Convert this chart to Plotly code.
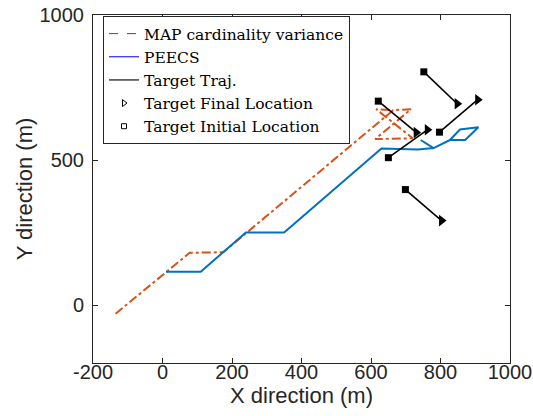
import plotly.graph_objects as go

# ---- data ----
map_x = [-135, 78, 175, 664, 715, 612, 720, 615, 664]
map_y = [-30, 180, 182, 672, 675, 572, 575, 675, 672]

peecs_x = [10, 110, 240, 350, 630, 735, 780, 743, 780, 827, 871, 909, 856, 827]
peecs_y = [115, 115, 250, 250, 540, 536, 541, 569, 541, 569, 569, 613, 605, 569]

target_start_x = [752, 621, 650, 797, 699]
target_start_y = [804, 703, 508, 596, 398]
target_end_x = [848, 730, 762, 907, 803]
target_end_y = [694, 595, 604, 708, 291]

x_ticks = [-200, 0, 200, 400, 600, 800, 1000]
x_tick_text = ["-200", "0", "200", "400", "600", "800", "1000"]
y_ticks = [0, 500, 1000]
y_tick_text = ["0", "500", "1000"]

ORANGE = "#D95319"
BLUE = "#0072BD"

fig = go.Figure()

# target trajectories (straight segments start -> end)
tx, ty = [], []
for x0, y0, x1, y1 in zip(target_start_x, target_start_y, target_end_x, target_end_y):
    tx += [x0, x1, None]
    ty += [y0, y1, None]

fig.add_trace(go.Scatter(x=map_x, y=map_y, mode="lines", showlegend=False,
                         line=dict(color=ORANGE, width=2, dash="dashdot")))
fig.add_trace(go.Scatter(x=peecs_x, y=peecs_y, mode="lines", showlegend=False,
                         line=dict(color=BLUE, width=2)))
fig.add_trace(go.Scatter(x=tx, y=ty, mode="lines", showlegend=False,
                         line=dict(color="black", width=1.6)))
fig.add_trace(go.Scatter(x=target_end_x, y=target_end_y, mode="markers", showlegend=False,
                         marker=dict(symbol="triangle-right", size=10, color="black")))
fig.add_trace(go.Scatter(x=target_start_x, y=target_start_y, mode="markers", showlegend=False,
                         marker=dict(symbol="square", size=7, color="black")))

# legend entries (styled like the reference legend)
fig.add_trace(go.Scatter(x=[None], y=[None], mode="lines", name="MAP cardinality variance",
                         line=dict(color="#FF0000", width=1, dash="dash")))
fig.add_trace(go.Scatter(x=[None], y=[None], mode="lines", name="PEECS",
                         line=dict(color="#0000FF", width=1)))
fig.add_trace(go.Scatter(x=[None], y=[None], mode="lines", name="Target Traj.",
                         line=dict(color="#404040", width=1.5)))
fig.add_trace(go.Scatter(x=[None], y=[None], mode="markers", name="Target Final Location",
                         marker=dict(symbol="triangle-right-open", size=6, color="black",
                                     line=dict(width=1))))
fig.add_trace(go.Scatter(x=[None], y=[None], mode="markers", name="Target Initial Location",
                         marker=dict(symbol="square-open", size=5, color="black",
                                     line=dict(width=1))))

axis_common = dict(
    showgrid=False, zeroline=False, showline=True, linecolor="#262626", linewidth=1,
    mirror="allticks", ticks="inside", ticklen=5, tickcolor="#262626", automargin=False,
    tickfont=dict(family="Liberation Sans", size=20, color="#262626"),
)

fig.update_xaxes(range=[-200, 1000], tickvals=x_ticks, ticktext=x_tick_text,
                 ticklabelstandoff=-9,
                 title=dict(text="X direction (m)", standoff=0,
                            font=dict(family="Liberation Sans", size=22, color="#262626")),
                 **axis_common)
fig.update_yaxes(range=[-200, 1000], tickvals=y_ticks, ticktext=y_tick_text,
                 ticklabelstandoff=4,
                 title=dict(text="Y direction (m)", standoff=0,
                            font=dict(family="Liberation Sans", size=22, color="#262626")),
                 **axis_common)

fig.update_layout(
    width=533, height=416,
    margin=dict(l=93, r=23, t=15, b=53),
    paper_bgcolor="white", plot_bgcolor="white",
    legend=dict(x=0.024, y=0.997, xanchor="left", yanchor="top",
                font=dict(family="DejaVu Serif", size=15.5, color="black"),
                bgcolor="white", bordercolor="#262626", borderwidth=1,
                tracegroupgap=0),
)

fig.write_html("out.html")
